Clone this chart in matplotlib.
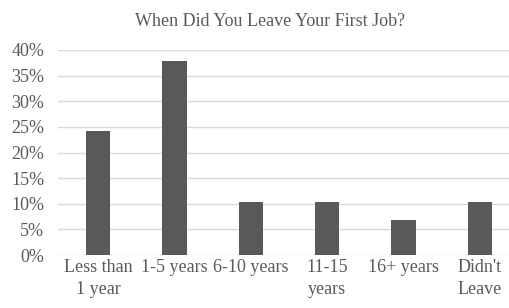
import matplotlib
matplotlib.use("Agg")
import matplotlib.pyplot as plt
from matplotlib.ticker import FuncFormatter

categories = ["Less than\n1 year", "1-5 years", "6-10 years", "11-15\nyears", "16+ years", "Didn't\nLeave"]
values = [24.1, 37.9, 10.3, 10.3, 6.9, 10.3]
yticks = [0, 5, 10, 15, 20, 25, 30, 35, 40]

plt.rcParams['font.family'] = ['Liberation Serif', 'DejaVu Serif']
txt = '#595959'

fig = plt.figure(figsize=(5.09, 3.08), dpi=100)
W, H = 509, 308
left, right, bottom, top = 58, 509, 255, 50
ax = fig.add_axes([left / W, 1 - bottom / H, (right - left) / W, (bottom - top) / H])

x = list(range(len(categories)))
ax.bar(x, values, width=0.32, color='#595959', zorder=3)

ax.set_ylim(0, 40)
ax.set_yticks(yticks)
ax.yaxis.set_major_formatter(FuncFormatter(lambda v, p: f"{int(v)}%"))
scale = 76.4
ax.set_xlim((left - 98) / scale, (right - 98) / scale)
ax.set_xticks(x)
ax.set_xticklabels(categories)

ax.grid(axis='y', color='#d9d9d9', linewidth=1, zorder=0)
for s in ax.spines.values():
    s.set_visible(False)
ax.tick_params(axis='both', length=0, colors=txt, labelsize=13)
ax.tick_params(axis='y', pad=10)
ax.tick_params(axis='x', pad=3)
for lab in ax.get_xticklabels():
    lab.set_linespacing(1.35)

fig.text(270 / W, 1 - 21 / H, "When Did You Leave Your First Job?", ha='center', va='center',
         fontsize=13, color=txt)

fig.savefig("out.png", dpi=100, facecolor='white')
